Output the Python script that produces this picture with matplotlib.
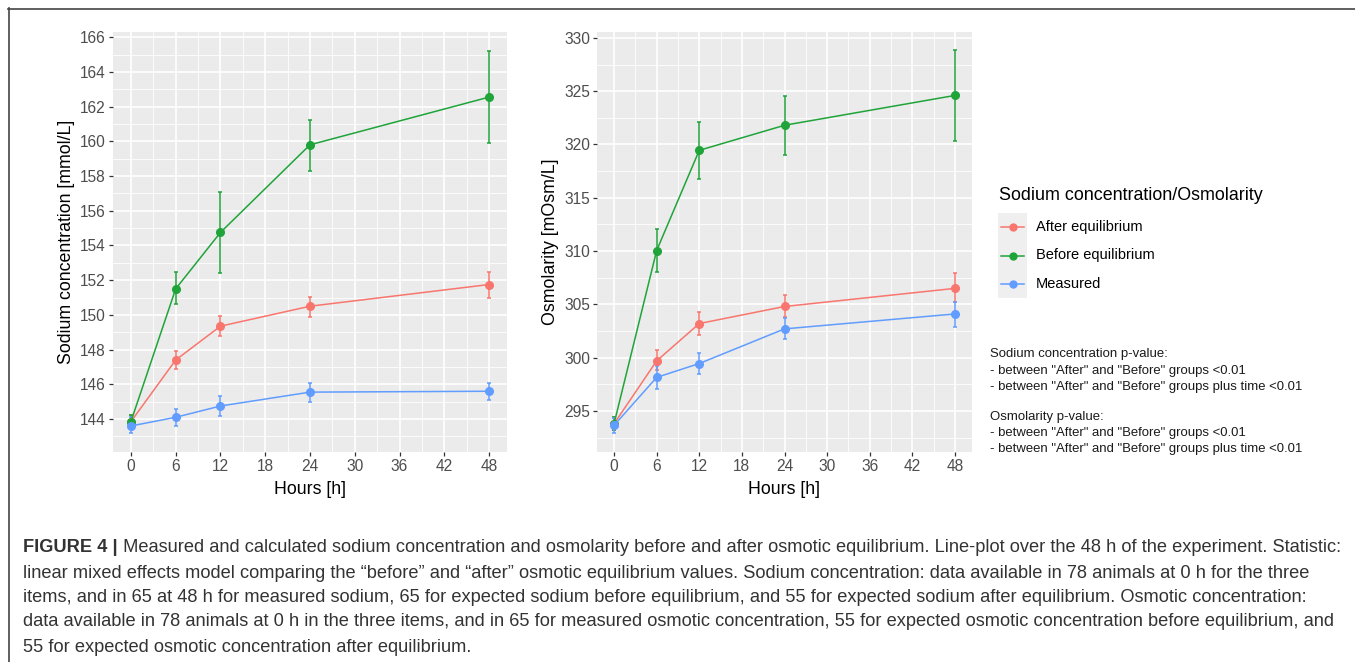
import matplotlib
matplotlib.use('Agg')
import matplotlib.pyplot as plt
from matplotlib.lines import Line2D
from matplotlib.patches import Rectangle
from matplotlib.ticker import MultipleLocator

plt.rcParams['font.family'] = ['Liberation Sans', 'DejaVu Sans']

# data (mean, lower and upper end of error bar)
hours = [0, 6, 12, 24, 48]
series_names = ['After equilibrium', 'Before equilibrium', 'Measured']
series_colors = ['#F8766D', '#1FA43A', '#619CFF']

sodium_after = [143.85, 147.4, 149.35, 150.5, 151.75]
sodium_after_lo = [143.4, 146.9, 148.8, 149.9, 151.0]
sodium_after_hi = [144.25, 147.9, 149.95, 151.05, 152.5]
sodium_before = [143.85, 151.5, 154.75, 159.8, 162.55]
sodium_before_lo = [143.4, 150.6, 152.4, 158.3, 159.9]
sodium_before_hi = [144.25, 152.45, 157.1, 161.25, 165.2]
sodium_measured = [143.6, 144.1, 144.75, 145.55, 145.6]
sodium_measured_lo = [143.2, 143.6, 144.2, 145.0, 145.1]
sodium_measured_hi = [144.1, 144.6, 145.3, 146.05, 146.1]

osmo_after = [293.8, 299.7, 303.2, 304.8, 306.5]
osmo_after_lo = [293.2, 298.8, 302.1, 303.8, 305.2]
osmo_after_hi = [294.4, 300.7, 304.25, 305.9, 307.9]
osmo_before = [293.8, 310.05, 319.45, 321.8, 324.6]
osmo_before_lo = [293.2, 308.0, 316.8, 319.0, 320.3]
osmo_before_hi = [294.4, 312.1, 322.1, 324.55, 328.85]
osmo_measured = [293.65, 298.15, 299.45, 302.7, 304.1]
osmo_measured_lo = [292.95, 297.1, 298.5, 301.75, 302.85]
osmo_measured_hi = [294.35, 299.25, 300.4, 303.7, 305.2]

sodium_ticks = list(range(144, 167, 2))
osmo_ticks = list(range(295, 331, 5))
hour_ticks = list(range(0, 49, 6))

pvalue_lines = [
    'Sodium concentration p-value:',
    '- between "After" and "Before" groups <0.01',
    '- between "After" and "Before" groups plus time <0.01',
    'Osmolarity p-value:',
    '- between "After" and "Before" groups <0.01',
    '- between "After" and "Before" groups plus time <0.01',
]

caption_bold = 'FIGURE 4 |'
caption_lines = [
    ' Measured and calculated sodium concentration and osmolarity before and after osmotic equilibrium. Line-plot over the 48 h of the experiment. Statistic:',
    'linear mixed effects model comparing the \u201cbefore\u201d and \u201cafter\u201d osmotic equilibrium values. Sodium concentration: data available in 78 animals at 0 h for the three',
    'items, and in 65 at 48 h for measured sodium, 65 for expected sodium before equilibrium, and 55 for expected sodium after equilibrium. Osmotic concentration:',
    'data available in 78 animals at 0 h in the three items, and in 65 for measured osmotic concentration, 55 for expected osmotic concentration before equilibrium, and',
    '55 for expected osmotic concentration after equilibrium.',
]

W, H = 1355, 662
fig = plt.figure(figsize=(W / 100, H / 100), dpi=100)


def fx(px):
    return px / W


def fy(py):
    return 1 - py / H


def style_axes(ax, yticks, yminor, ylabel):
    ax.set_facecolor('#EBEBEB')
    for s in ax.spines.values():
        s.set_visible(False)
    ax.set_xticks(hour_ticks)
    ax.set_yticks(yticks)
    ax.xaxis.set_minor_locator(MultipleLocator(3))
    ax.yaxis.set_minor_locator(MultipleLocator(yminor))
    ax.grid(which='major', color='white', linewidth=1.2)
    ax.grid(which='minor', color='white', linewidth=0.6)
    ax.set_axisbelow(True)
    ax.tick_params(which='major', length=3, width=0.9, color='#333333',
                   labelcolor='#4D4D4D', labelsize=11.2, pad=2)
    ax.tick_params(which='minor', length=0)
    ax.set_xlim(-2.4, 50.4)
    ax.set_xlabel('Hours [h]', fontsize=12.8, color='black', labelpad=5)
    ax.set_ylabel(ylabel, fontsize=12.8, color='black', labelpad=4)


def draw_series(ax, means, los, his):
    for m, lo, hi, c in zip(means, los, his, series_colors):
        yerr = [[a - b for a, b in zip(m, lo)], [b - a for a, b in zip(m, hi)]]
        ax.errorbar(hours, m, yerr=yerr, color=c, linewidth=1.1,
                    elinewidth=1.1, capsize=1.6, capthick=1.1,
                    marker='o', markersize=5.5, zorder=3)


ax1 = fig.add_axes([fx(113), fy(452), fx(394), 420 / H])
draw_series(ax1, [sodium_after, sodium_before, sodium_measured],
            [sodium_after_lo, sodium_before_lo, sodium_measured_lo],
            [sodium_after_hi, sodium_before_hi, sodium_measured_hi])
style_axes(ax1, sodium_ticks, 1, 'Sodium concentration [mmol/L]')
ax1.set_ylim(142.1, 166.3)

ax2 = fig.add_axes([fx(597), fy(452), fx(375), 420 / H])
draw_series(ax2, [osmo_after, osmo_before, osmo_measured],
            [osmo_after_lo, osmo_before_lo, osmo_measured_lo],
            [osmo_after_hi, osmo_before_hi, osmo_measured_hi])
style_axes(ax2, osmo_ticks, 2.5, 'Osmolarity [mOsm/L]')
ax2.set_ylim(291.15, 330.55)

# legend drawn by hand (ggplot style key background)
fig.text(fx(999), fy(196), 'Sodium concentration/Osmolarity', fontsize=12.9,
         va='center', ha='left')
fig.add_artist(Rectangle((fx(998), fy(298)), fx(29), 85 / H,
                         transform=fig.transFigure, facecolor='#EFEFEF',
                         edgecolor='none'))
for i, (name, c) in enumerate(zip(series_names, series_colors)):
    yy = fy(227 + i * 28.5)
    fig.add_artist(Line2D([fx(1001), fx(1024)], [yy, yy], color=c,
                          linewidth=1.1, transform=fig.transFigure))
    fig.add_artist(Line2D([fx(1012.5)], [yy], color=c, marker='o',
                          markersize=5, transform=fig.transFigure))
    fig.text(fx(1036), yy, name, fontsize=10.5, va='center', ha='left')

pvalue_y = [354, 371, 387, 417, 433, 449]
for line, py in zip(pvalue_lines, pvalue_y):
    fig.text(fx(990), fy(py), line, fontsize=9.45, va='center', ha='left',
             color='#1A1A1A')

# frame lines
fig.add_artist(Line2D([fx(8), 1], [fy(8.5), fy(8.5)], color='#444444',
                      linewidth=1.2, transform=fig.transFigure))
fig.add_artist(Line2D([fx(8.5), fx(8.5)], [0, fy(8)], color='#444444',
                      linewidth=1.2, transform=fig.transFigure))

# caption
cap_y = [548, 573, 597, 622, 647]
cap_size = 13.12
cap_color = '#333333'
tb = fig.text(fx(23), fy(cap_y[0]), caption_bold, fontsize=cap_size,
              fontweight='bold', va='center', ha='left', color=cap_color)
fig.canvas.draw()
bb = tb.get_window_extent(fig.canvas.get_renderer())
x_after = bb.x1 / W
for i, (line, py) in enumerate(zip(caption_lines, cap_y)):
    x0 = x_after if i == 0 else fx(23)
    fig.text(x0, fy(py), line, fontsize=cap_size, va='center', ha='left',
             color=cap_color)

fig.savefig('out.png', dpi=100)
